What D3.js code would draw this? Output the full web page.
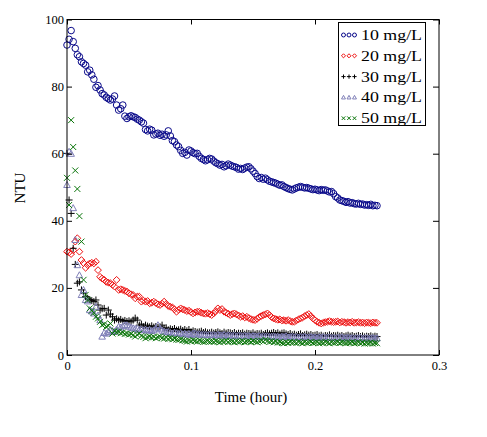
<!DOCTYPE html>
<html>
<head>
<meta charset="utf-8">
<script src="https://cdn.jsdelivr.net/npm/d3@7"></script>
<style>
  body { margin: 0; background: #fff; }
  text { font-family: "Liberation Serif", "Times New Roman", serif; }
</style>
</head>
<body>
<svg></svg>
<script>
// sampling times (s), one reading every 6 s
let seconds = [0,6,12,18,24,30,36,42,48,54,60,66,72,78,84,90,96,102,108,114,120,126,132,138,144,150,156,162,168,174,180,186,192,198,204,210,216,222,228,234,240,246,252,258,264,270,276,282,288,294,300,306,312,318,324,330,336,342,348,354,360,366,372,378,384,390,396,402,408,414,420,426,432,438,444,450,456,462,468,474,480,486,492,498,504,510,516,522,528,534,540,546,552,558,564,570,576,582,588,594,600,606,612,618,624,630,636,642,648,654,660,666,672,678,684,690,696,702,708,714,720,726,732,738,744,750,756,762,768,774,780,786,792,798,804,810,816,822,828,834,840,846,852,858,864,870,876,882,888,894,900]

// turbidity readings (NTU)
let ntu10 = [
  92.4,94.1,96.7,93.4,91.4,89.5,88.9,87.4,86.9,86.4,
  84.4,84.9,83.5,82.2,79.8,80.3,79.0,77.9,77.5,76.8,
  76.4,76.0,76.3,77.2,74.5,73.0,73.4,74.5,71.2,70.5,
  71.0,71.3,71.0,70.8,70.3,70.0,69.5,69.1,67.2,66.8,
  67.3,67.0,65.6,65.9,66.1,65.5,65.8,65.2,65.6,66.8,
  65.3,63.9,63.6,62.6,62.1,61.0,60.1,60.4,59.6,61.1,
  60.8,60.3,60.0,60.1,59.2,58.6,58.3,57.9,58.2,58.6,
  58.4,57.8,57.3,57.0,56.6,56.8,56.1,56.4,56.9,56.6,
  56.3,56.1,55.9,55.4,55.6,55.3,55.7,56.0,56.1,55.5,
  54.8,54.1,53.2,52.6,52.9,52.4,52.7,52.2,51.8,51.6,
  51.4,51.2,50.9,50.6,50.7,50.2,49.9,49.6,49.4,49.2,
  49.5,49.8,50.0,50.2,50.0,49.8,49.9,49.7,49.5,49.3,
  49.4,49.2,49.0,49.3,49.1,49.2,48.9,48.6,48.7,48.1,
  47.2,46.8,46.2,46.0,45.8,45.5,45.7,45.3,45.4,45.1,
  45.0,45.2,44.9,45.0,44.7,44.8,44.6,44.9,44.5,44.6,44.5]

let ntu20 = [
  30.8,30.6,30.1,31.2,33.8,34.8,30.8,28.3,27.4,26.0,
  26.8,27.3,27.5,27.3,27.8,25.3,23.3,22.8,22.4,21.8,
  21.6,21.4,20.9,20.4,22.4,19.4,19.6,19.4,19.1,18.9,
  18.4,18.1,17.9,16.9,17.4,17.4,15.9,16.2,15.9,16.1,
  15.4,15.6,15.9,15.5,15.1,14.9,15.3,15.9,15.2,14.6,
  14.4,14.2,13.6,12.9,13.5,13.9,13.6,13.4,13.1,13.2,
  12.8,12.4,12.7,12.9,12.9,12.6,12.4,12.3,12.5,12.2,
  11.9,12.4,13.1,13.9,13.4,13.7,12.9,12.6,12.3,11.9,
  12.2,12.4,12.1,11.8,11.4,11.6,11.2,11.4,11.0,10.7,
  10.5,10.4,10.8,11.3,11.6,11.9,12.1,12.4,11.9,11.3,
  10.9,10.7,10.5,10.6,10.3,10.4,10.2,10.4,10.1,9.9,
  9.9,10.3,10.6,10.9,11.2,11.6,11.9,12.2,11.6,10.9,
  10.4,9.9,9.6,9.4,9.6,9.8,9.9,10.1,9.9,9.8,
  9.9,10.0,9.7,9.9,9.8,9.6,9.8,9.7,9.9,9.6,
  9.7,9.8,9.6,9.7,9.5,9.7,9.6,9.5,9.7,9.6,9.6]

let ntu30 = [
  60.1,46.2,42.2,31.8,27.0,21.4,21.8,19.4,18.5,17.4,
  16.9,16.5,16.2,15.9,16.4,14.9,13.4,13.8,13.9,11.9,
  13.4,12.2,11.4,10.4,10.8,10.4,10.6,10.1,10.3,10.0,
  10.2,9.9,10.4,11.0,10.4,8.9,9.2,8.4,8.9,8.6,
  8.4,8.7,8.3,8.5,8.2,8.4,8.9,7.9,8.1,7.5,
  7.8,7.6,7.9,7.4,7.5,7.7,7.3,7.6,7.2,7.6,
  6.9,7.2,7.0,6.8,6.9,7.1,6.7,6.9,6.6,6.6,
  6.8,6.5,6.7,6.9,6.6,6.4,6.8,6.5,6.7,6.6,
  6.4,6.7,6.3,6.5,6.4,6.6,6.2,6.5,6.4,6.3,
  6.6,6.2,6.4,6.3,6.5,6.1,6.4,6.6,6.3,6.5,
  6.7,6.4,6.6,6.2,6.5,6.6,6.3,6.1,6.4,6.0,
  6.2,5.9,6.1,6.3,5.8,6.0,6.2,5.9,6.1,5.8,
  5.9,6.1,5.7,5.9,5.6,5.8,5.7,6.0,5.6,5.8,
  5.7,5.9,5.6,5.8,5.5,5.7,5.9,5.6,5.8,5.5,
  5.6,5.8,5.5,5.7,5.4,5.6,5.5,5.7,5.4,5.6,5.5]

let ntu40 = [
  50.7,60.6,60.0,43.8,34.3,26.8,23.8,17.9,19.4,16.4,
  16.0,13.4,13.0,12.4,14.4,11.8,10.4,5.5,6.6,6.4,
  6.9,7.5,7.2,6.9,7.6,8.4,8.2,8.6,8.9,8.9,
  8.5,8.2,8.0,7.8,7.9,7.5,7.7,7.4,7.6,7.3,
  7.5,7.2,7.4,7.9,8.9,7.9,7.3,7.0,6.8,6.9,
  6.6,6.4,6.7,6.5,6.3,6.6,6.2,6.4,6.1,6.3,
  6.0,6.4,6.4,6.1,6.2,6.0,6.1,6.0,5.9,6.1,
  5.9,6.0,5.8,6.1,5.9,5.8,6.0,5.7,5.9,5.8,
  5.7,5.9,5.6,5.8,5.7,5.6,5.8,5.6,5.7,5.5,
  5.7,5.6,5.5,5.7,5.4,5.6,5.5,5.6,5.4,5.5,
  5.6,5.4,5.5,5.3,5.5,5.4,5.6,5.3,5.4,5.5,
  5.3,5.4,5.2,5.4,5.3,5.5,5.2,5.3,5.4,5.2,
  5.3,5.1,5.3,5.2,5.4,5.1,5.2,5.3,5.1,5.2,
  5.0,5.2,5.1,5.3,5.0,5.1,5.2,5.0,5.1,4.9,
  5.1,5.0,5.2,4.9,5.0,5.1,4.9,5.0,5.1,4.9,5.0]

let ntu50 = [
  52.8,44.7,70.0,62.0,55.0,49.5,41.4,33.8,22.4,17.9,
  16.4,13.9,13.2,12.6,11.4,10.9,9.9,8.9,9.2,8.4,
  8.7,9.4,6.4,7.2,6.8,6.9,6.5,6.7,6.3,6.4,
  6.1,6.3,5.9,5.5,6.0,6.4,5.7,5.4,5.0,5.3,
  5.5,5.2,5.4,5.0,5.3,5.5,5.1,4.9,5.2,4.8,
  5.0,4.7,4.9,4.6,4.5,4.7,4.4,4.2,4.0,4.3,
  4.1,4.4,4.2,4.0,4.3,4.1,3.9,4.0,4.2,4.0,
  4.1,3.9,4.2,4.0,3.8,4.1,4.0,4.3,3.9,4.1,
  4.0,3.8,4.1,3.9,4.0,4.2,3.8,4.0,4.1,3.9,
  4.2,4.0,3.8,4.1,4.3,4.0,4.5,4.2,3.9,4.1,
  3.8,4.0,3.7,3.9,3.6,3.5,3.8,3.6,3.9,3.7,
  3.8,3.6,3.9,3.7,3.5,3.8,3.6,3.7,3.9,3.6,
  3.7,3.8,3.5,3.7,3.6,3.9,3.7,3.5,3.8,3.6,
  3.7,3.9,3.6,3.8,3.7,3.5,3.7,3.6,3.8,3.5,
  3.6,3.8,3.5,3.7,3.4,3.6,3.5,3.7,3.4,3.6,3.5]

let labels = ['10 mg/L', '20 mg/L', '30 mg/L', '40 mg/L', '50 mg/L']
let xTicks = [0, 0.1, 0.2, 0.3]
let yTicks = [0, 20, 40, 60, 80, 100]

let width = 487,
    height = 437;
let margin = {top: 19.5, right: 48, bottom: 82, left: 67}

let svg = d3.select('svg')
            .attr('width', width)
            .attr('height', height)

// scales
let xScale = d3.scaleLinear()
      .domain([0, 0.3])
      .range([margin.left, width - margin.right])
let yScale = d3.scaleLinear()
      .domain([0, 100])
      .range([height - margin.bottom, margin.top])

// marker shapes (unit size)
let shapes = {
  circle:   'M3.3,0A3.3,3.3 0 1,1 -3.3,0A3.3,3.3 0 1,1 3.3,0Z',
  diamond:  'M0,-3.4L3.4,0L0,3.4L-3.4,0Z',
  plus:     'M-3.5,0H3.5M0,-3.5V3.5',
  triangle: 'M0,-3.4L3.3,2.6L-3.3,2.6Z',
  cross:    'M-3,-3L3,3M3,-3L-3,3'
}

let series = [
  {label: labels[0], values: ntu10, shape: 'circle',   color: '#0a0a8a'},
  {label: labels[1], values: ntu20, shape: 'diamond',  color: '#ee1111'},
  {label: labels[2], values: ntu30, shape: 'plus',     color: '#000000'},
  {label: labels[3], values: ntu40, shape: 'triangle', color: '#8080b8'},
  {label: labels[4], values: ntu50, shape: 'cross',    color: '#0a750a'}
]

// points
series.forEach(s => {
  let pts = seconds.map((sec, i) => ({t: sec / 3600, v: s.values[i]}))
                   .filter(d => d.v !== undefined)
  svg.append('g')
     .selectAll('path')
     .data(pts)
     .enter()
     .append('path')
     .attr('d', shapes[s.shape])
     .attr('transform', d => 'translate(' + xScale(d.t) + ',' + yScale(d.v) + ')')
     .attr('fill', 'none')
     .attr('stroke', s.color)
     .attr('stroke-width', 1)
})

// axes: inward ticks on all four sides
let fmt = d3.format('')
let xAxis = d3.axisBottom(xScale).tickValues(xTicks).tickFormat(fmt)
              .tickSizeInner(-5).tickSizeOuter(0).tickPadding(6)
let yAxis = d3.axisLeft(yScale).tickValues(yTicks).tickFormat(fmt)
              .tickSizeInner(-5).tickSizeOuter(0).tickPadding(3)
let topAxis = d3.axisTop(xScale).tickValues(xTicks).tickFormat('')
              .tickSizeInner(-5).tickSizeOuter(0)
let rightAxis = d3.axisRight(yScale).tickValues(yTicks).tickFormat('')
              .tickSizeInner(-6).tickSizeOuter(0)

let plotBottom = height - margin.bottom,
    plotRight = width - margin.right;

[[xAxis, 'translate(0,' + plotBottom + ')'],
 [yAxis, 'translate(' + margin.left + ',0)'],
 [topAxis, 'translate(0,' + margin.top + ')'],
 [rightAxis, 'translate(' + plotRight + ',0)']].forEach(a => {
  let g = svg.append('g').attr('transform', a[1]).call(a[0])
  g.select('.domain').remove()
  g.selectAll('line').attr('stroke', '#000')
  g.selectAll('text')
   .attr('fill', '#000')
   .style('font-family', '"Liberation Serif", serif')
   .style('font-size', '12.5px')
})

// frame
svg.append('rect')
   .attr('x', margin.left)
   .attr('y', margin.top)
   .attr('width', plotRight - margin.left)
   .attr('height', plotBottom - margin.top)
   .attr('fill', 'none')
   .attr('stroke', '#000')
   .attr('stroke-width', 1)

// axis titles
svg.append('text')
   .attr('x', 251)
   .attr('y', 397)
   .attr('dy', '0.35em')
   .attr('text-anchor', 'middle')
   .style('font-size', '15px')
   .text('Time (hour)')

svg.append('text')
   .attr('transform', 'translate(20,188) rotate(-90)')
   .attr('dy', '0.35em')
   .attr('text-anchor', 'middle')
   .style('font-size', '15px')
   .text('NTU')

// legend
let legend = svg.append('g')
legend.append('rect')
      .attr('x', 338.5).attr('y', 22.5)
      .attr('width', 87).attr('height', 103)
      .attr('fill', '#fff').attr('stroke', '#000')

let rows = legend.selectAll('g.row')
      .data(series)
      .enter()
      .append('g')
      .attr('class', 'row')
      .attr('transform', (d, i) => 'translate(0,' + (35 + i * 20.8) + ')')

rows.each(function(s) {
  let row = d3.select(this)
  ;[343.5, 349, 354.5].forEach(x => {
    row.append('path')
       .attr('d', shapes[s.shape])
       .attr('transform', 'translate(' + x + ',0) scale(0.6)')
       .attr('fill', 'none')
       .attr('stroke', s.color)
       .attr('stroke-width', 1 / 0.6)
  })
  row.append('text')
     .attr('x', 361)
     .attr('dy', '0.35em')
     .attr('textLength', 61)
     .attr('lengthAdjust', 'spacingAndGlyphs')
     .style('font-size', '14.5px')
     .text(s.label)
})
</script>
</body>
</html>
